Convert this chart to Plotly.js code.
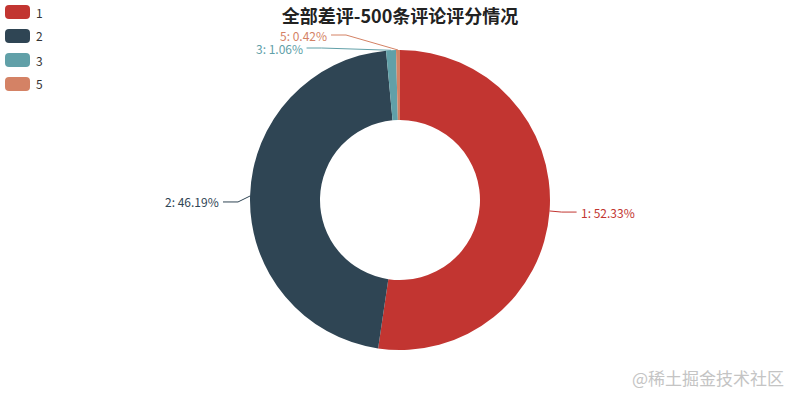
<!DOCTYPE html>
<html>
<head>
<meta charset="utf-8">
<script src="https://cdn.plot.ly/plotly-3.0.1.min.js"></script>
<style>
  html, body { margin: 0; padding: 0; background: #fff; }
  #chart { width: 800px; height: 400px; }
</style>
</head>
<body>
<div id="chart"></div>
<script>
// 评分类别和评论条数
const ratings = ['1', '2', '3', '5'];
const counts = [247, 218, 5, 2];
const colors = ['#c23531', '#2f4554', '#61a0a8', '#d48265'];
const chartTitle = '全部差评-500条评论评分情况';
const watermark = '@稀土掘金技术社区';

const W = 800, H = 400;
const cx = 400, cy = 200, R = 150, R0 = 80;
const LEN = 15, LEN2 = 15, LABEL_H = 13;
const FONT = '"Noto Sans CJK SC", "Microsoft YaHei", sans-serif';

const px = x => x / W;
const py = y => 1 - y / H;

// label layout, roughly like echarts pie outside labels
const total = counts.reduce((a, b) => a + b, 0);
let acc = 0;
const labels = counts.map((v, i) => {
    const mid = (acc + v / 2) / total * 2 * Math.PI;
    acc += v;
    const dx = Math.sin(mid), dy = -Math.cos(mid);
    const x1 = cx + R * dx, y1 = cy + R * dy;
    const x2 = x1 + dx * LEN, y2 = y1 + dy * LEN;
    const x3 = x2 + (dx < 0 ? -1 : 1) * LEN2;
    return {
        i: i, x: x3 + (dx < 0 ? -5 : 5), y: y2,
        p0: [x1, y1], dist: x2 - x3,
        text: ratings[i] + ': ' + (v / total * 100).toFixed(2) + '%'
    };
});

function adjustSide(list, dir) {
    list.sort((a, b) => a.y - b.y);
    function shiftUp(end, delta) {
        for (let j = end; j >= 0; j--) {
            list[j].y -= delta;
            if (j > 0 && list[j].y > list[j - 1].y + LABEL_H) break;
        }
    }
    function shiftDown(start, end, delta) {
        for (let j = start; j < end; j++) {
            list[j].y += delta;
            if (j > start && j + 1 < end && list[j + 1].y > list[j].y + LABEL_H) {
                shiftUp(j, delta / 2);
                return;
            }
        }
        shiftUp(end - 1, delta / 2);
    }
    function changeX(sub, isDown) {
        let last = isDown ? Number.MAX_VALUE : 0;
        sub.forEach(l => {
            const deltaY = Math.abs(l.y - cy);
            let deltaX = deltaY < R + LEN
                ? Math.sqrt((R + LEN + LEN2) * (R + LEN + LEN2) - deltaY * deltaY)
                : Math.abs(l.x - cx);
            if (isDown && deltaX >= last) deltaX = last - 10;
            if (!isDown && deltaX <= last) deltaX = last + 10;
            l.x = cx + deltaX * dir;
            last = deltaX;
        });
    }
    let lastY = 0;
    for (let i = 0; i < list.length; i++) {
        const delta = list[i].y - LABEL_H / 2 - lastY;
        if (delta < 0) shiftDown(i, list.length, -delta);
        lastY = list[i].y + LABEL_H / 2;
    }
    changeX(list.filter(l => l.y < cy), false);
    changeX(list.filter(l => l.y >= cy), true);
}
adjustSide(labels.filter(l => l.x >= cx), 1);
adjustSide(labels.filter(l => l.x < cx), -1);

const shapes = [];
const annotations = [];

labels.forEach(l => {
    const left = l.x < cx;
    const x3 = left ? l.x + 3 : l.x - 3;
    const x2 = x3 + l.dist;
    shapes.push({
        type: 'path', xref: 'paper', yref: 'paper',
        path: 'M' + px(l.p0[0]) + ',' + py(l.p0[1]) +
              ' L' + px(x2) + ',' + py(l.y) +
              ' L' + px(x3) + ',' + py(l.y),
        line: { color: colors[l.i], width: 1 }
    });
    annotations.push({
        xref: 'paper', yref: 'paper', x: px(l.x), y: py(l.y),
        xanchor: left ? 'right' : 'left', yanchor: 'middle',
        text: l.text, showarrow: false, borderpad: 0,
        font: { family: FONT, size: 12, color: colors[l.i] }
    });
});

// legend, top left like echarts
ratings.forEach((r, i) => {
    const x0 = 5, x1 = 30, y0 = 5 + i * 24, y1 = y0 + 14, k = 4;
    shapes.push({
        type: 'path', xref: 'paper', yref: 'paper',
        path: 'M' + px(x0 + k) + ',' + py(y0) + ' L' + px(x1 - k) + ',' + py(y0) +
              ' Q' + px(x1) + ',' + py(y0) + ' ' + px(x1) + ',' + py(y0 + k) +
              ' L' + px(x1) + ',' + py(y1 - k) +
              ' Q' + px(x1) + ',' + py(y1) + ' ' + px(x1 - k) + ',' + py(y1) +
              ' L' + px(x0 + k) + ',' + py(y1) +
              ' Q' + px(x0) + ',' + py(y1) + ' ' + px(x0) + ',' + py(y1 - k) +
              ' L' + px(x0) + ',' + py(y0 + k) +
              ' Q' + px(x0) + ',' + py(y0) + ' ' + px(x0 + k) + ',' + py(y0) + ' Z',
        fillcolor: colors[i], line: { width: 0 }
    });
    annotations.push({
        xref: 'paper', yref: 'paper', x: px(35), y: py(y0 + 7),
        xanchor: 'left', yanchor: 'middle', text: r, showarrow: false, borderpad: 0,
        font: { family: FONT, size: 12, color: '#333' }
    });
});

annotations.push({
    xref: 'paper', yref: 'paper', x: px(786), y: py(377),
    xanchor: 'right', yanchor: 'middle', text: watermark, showarrow: false,
    font: { family: FONT, size: 17, color: '#c4c4c4' }
});

const data = [{
    type: 'pie',
    labels: ratings,
    values: counts,
    sort: false,
    direction: 'clockwise',
    rotation: 0,
    hole: R0 / R,
    textinfo: 'none',
    hoverinfo: 'skip',
    marker: { colors: colors, line: { width: 0 } },
    domain: { x: [0, 1], y: [(cy - R) / H, (cy + R) / H] }
}];

const layout = {
    width: W, height: H,
    margin: { l: 0, r: 0, t: 0, b: 0 },
    paper_bgcolor: '#fff',
    showlegend: false,
    title: {
        text: chartTitle,
        x: 0.5, xanchor: 'center',
        y: 1 - 17 / H, yanchor: 'middle',
        font: { family: FONT, size: 18, color: '#222', weight: 'bold' }
    },
    shapes: shapes,
    annotations: annotations
};

Plotly.newPlot('chart', data, layout, { displayModeBar: false, staticPlot: true });
</script>
</body>
</html>
